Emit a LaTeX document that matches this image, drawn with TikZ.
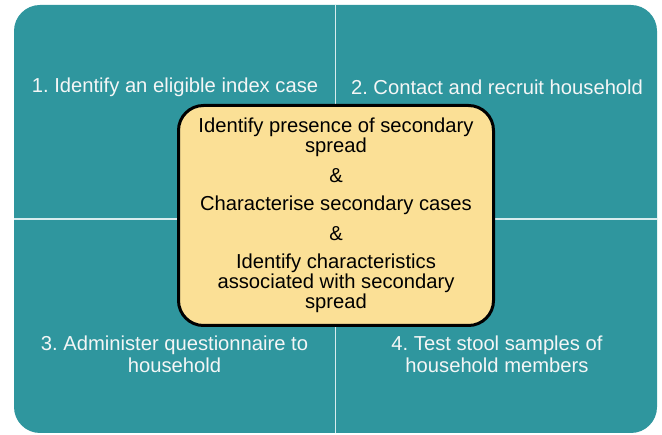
\documentclass[tikz,border=0pt]{standalone}
\usepackage{fontspec}
\setmainfont{Liberation Sans}
\frenchspacing
\definecolor{quadteal}{HTML}{2F969E}
\definecolor{hubfill}{HTML}{FBE096}
\definecolor{quadtext}{HTML}{F4F6F6}
\definecolor{splitline}{HTML}{D8ECEE}
\begin{document}
\begin{tikzpicture}[x=1pt,y=-1pt,
  quadlabel/.style={text=quadtext, align=center,
    font=\fontsize{20.2pt}{22pt}\selectfont, inner sep=0pt},
  divider/.style={draw=splitline, line width=1.6pt},
  hub/.style={draw=black, line width=3pt, fill=hubfill, rounded corners=25pt,
    align=center, inner sep=0pt, font=\fontsize{20.2pt}{20pt}\selectfont,
    minimum width=315pt, minimum height=220pt}]
\useasboundingbox (0,0) rectangle (662,435);

% four teal quadrants as one rounded panel split by light lines
\fill[quadteal, rounded corners=26pt] (14,5) rectangle (657,433);
\coordinate (vtop) at (335.5,5);
\coordinate (vbot) at (335.5,433);
\coordinate (hleft) at (14,219);
\coordinate (hright) at (657,219);
\draw[divider] (vtop) -- (vbot);
\draw[divider] (hleft) -- (hright);

% step labels
\node[quadlabel] (q1) at (175,87) {1. Identify an eligible index case};
\node[quadlabel] (q2) at (497,87) {2. Contact and recruit household};
\node[quadlabel] (q3) at (174.5,354) {3. Administer questionnaire to\\household};
\node[quadlabel] (q4) at (497,354) {4. Test stool samples of\\household members};

% central aims box
\node[hub] (aims) at (336,215.5) {Identify presence of secondary\\spread\\[10pt]
  \&\\[8pt]
  Characterise secondary cases\\[10pt]
  \&\\[8pt]
  Identify characteristics\\associated with secondary\\spread};
\end{tikzpicture}
\end{document}
